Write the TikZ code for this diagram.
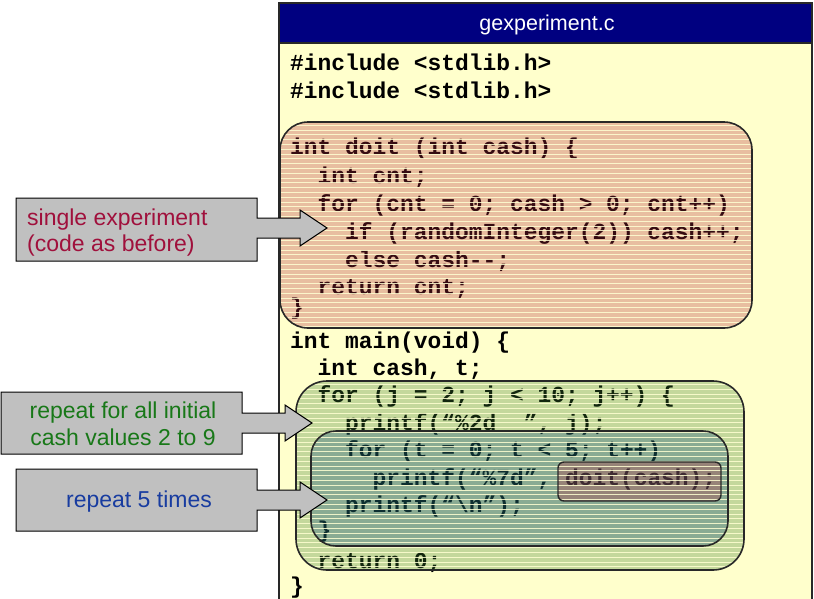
\documentclass[tikz,border=0pt]{standalone}
\usepackage{fontspec}
\setmainfont{Liberation Sans}
\newfontfamily\codefont{Liberation Mono}
\usetikzlibrary{calc}

\definecolor{paper}{RGB}{255,255,204}
\definecolor{titlebar}{RGB}{0,0,128}
\definecolor{framecol}{RGB}{40,40,40}
\definecolor{redtint}{RGB}{180,40,60}
\definecolor{greentint}{RGB}{62,128,47}
\definecolor{bluetint}{RGB}{4,67,127}
\definecolor{stripecol}{RGB}{255,255,210}
\definecolor{calloutgray}{RGB}{192,192,192}
\definecolor{maroontext}{RGB}{160,16,60}
\definecolor{greentext}{RGB}{24,120,24}
\definecolor{bluetext}{RGB}{24,60,160}

\begin{document}
\begin{tikzpicture}[x=1pt,y=-1pt,
  code/.style={anchor=base west, inner sep=0pt, text=black,
    font=\codefont\bfseries\fontsize{22.9}{27}\selectfont},
  note/.style={inner sep=0pt, font=\fontsize{23}{26.5}\selectfont},
  tint/.style={fill=#1, fill opacity=0.3, draw=none},
  outline/.style={draw=framecol, line width=1.6pt},
  stripe/.style={draw=stripecol, draw opacity=0.85, line width=0.9pt},
  callout/.style={fill=calloutgray, draw=black, line width=1pt, line join=miter}
]
\useasboundingbox (0,0) rectangle (814,598);
\clip (0,0) rectangle (814,598);
\fill[white] (0,0) rectangle (814,598);

% source file panel with title bar
\draw[fill=paper, draw=framecol, line width=1.4pt] (279,3) rectangle (812,620);
\draw[fill=titlebar, draw=framecol, line width=1.4pt] (279,3) rectangle (812,43);
\node[text=white, inner sep=0pt, font=\fontsize{21.5}{25}\selectfont] (title) at (547,24.5) {gexperiment.c};

% source code
\node[code] (l1)  at (290,70)    {\#include <stdlib.h>};
\node[code] (l2)  at (290,98)    {\#include <stdlib.h>};
\node[code] (l3)  at (290,154)   {int doit (int cash) \{};
\node[code] (l4)  at (317.5,183) {int cnt;};
\node[code] (l5)  at (317.5,211) {for (cnt = 0; cash > 0; cnt++)};
\node[code] (l6)  at (345,239)   {if (randomInteger(2)) cash++;};
\node[code] (l7)  at (345,267)   {else cash-{}-;};
\node[code] (l8)  at (317.5,294) {return cnt;};
\node[code] (l9)  at (290,314)   {\}};
\node[code] (l10) at (290,348)   {int main(void) \{};
\node[code] (l11) at (317.5,375) {int cash, t;};
\node[code] (l12) at (317.5,402) {for (j = 2; j < 10; j++) \{};
\node[code] (l13) at (345,430)   {printf(“\%2d~~”, j);};
\node[code] (l14) at (345,457)   {for (t = 0; t < 5; t++)};
\node[code] (l15) at (372.5,485) {printf(“\%7d”, doit(cash);};
\node[code] (l16) at (345,512)   {printf(“\textbackslash n”);};
\node[code] (l17) at (317.5,537) {\}};
\node[code] (l18) at (317.5,568) {return 0;};
\node[code] (l19) at (290,593)   {\}};

% translucent highlight regions
\fill[tint=redtint, rounded corners=28pt] (280,122) rectangle (752,328);
\fill[tint=greentint, rounded corners=31pt] (296,381) rectangle (744,570);
\fill[tint=bluetint, rounded corners=25pt] (311,431) rectangle (728,546);
\fill[tint=redtint, rounded corners=6pt] (558,462) rectangle (721,501);

% horizontal hatching over the regions
\begin{scope}
  \clip[rounded corners=28pt] (280,122) rectangle (752,328)
       [rounded corners=31pt] (296,381) rectangle (744,570);
  \foreach \k in {0,...,100}
    \draw[stripe] (270,120.5+\k*4.8) -- (760,120.5+\k*4.8);
\end{scope}

\draw[outline, rounded corners=28pt] (280,122) rectangle (752,328);
\draw[outline, rounded corners=31pt] (296,381) rectangle (744,570);
\draw[outline, rounded corners=25pt] (311,431) rectangle (728,546);
\draw[outline, line width=1.4pt, rounded corners=6pt] (558,462) rectangle (721,501);

% callout arrows
\draw[callout] (16,198) -- (257,198) -- (257,218) -- (300,218) -- (300,210)
  -- (327,228) -- (300,246) -- (300,238) -- (257,238) -- (257,261) -- (16,261) -- cycle;
\node[note, text=maroontext, anchor=west, align=left] (c1) at (27,232.5)
  {single experiment\\(code as before)};

\draw[callout] (1,392) -- (242,392) -- (242,413) -- (285,413) -- (285,405)
  -- (312,423) -- (285,441) -- (285,433) -- (242,433) -- (242,454) -- (1,454) -- cycle;
\node[note, text=greentext, align=center] (c2) at (123,424)
  {repeat for all initial\\cash values 2 to 9};

\draw[callout] (16,469) -- (257,469) -- (257,490) -- (300,490) -- (300,482)
  -- (327,500) -- (300,518) -- (300,510) -- (257,510) -- (257,531) -- (16,531) -- cycle;
\node[note, text=bluetext, align=center] (c3) at (139,501.5) {repeat 5 times};
\end{tikzpicture}
\end{document}
